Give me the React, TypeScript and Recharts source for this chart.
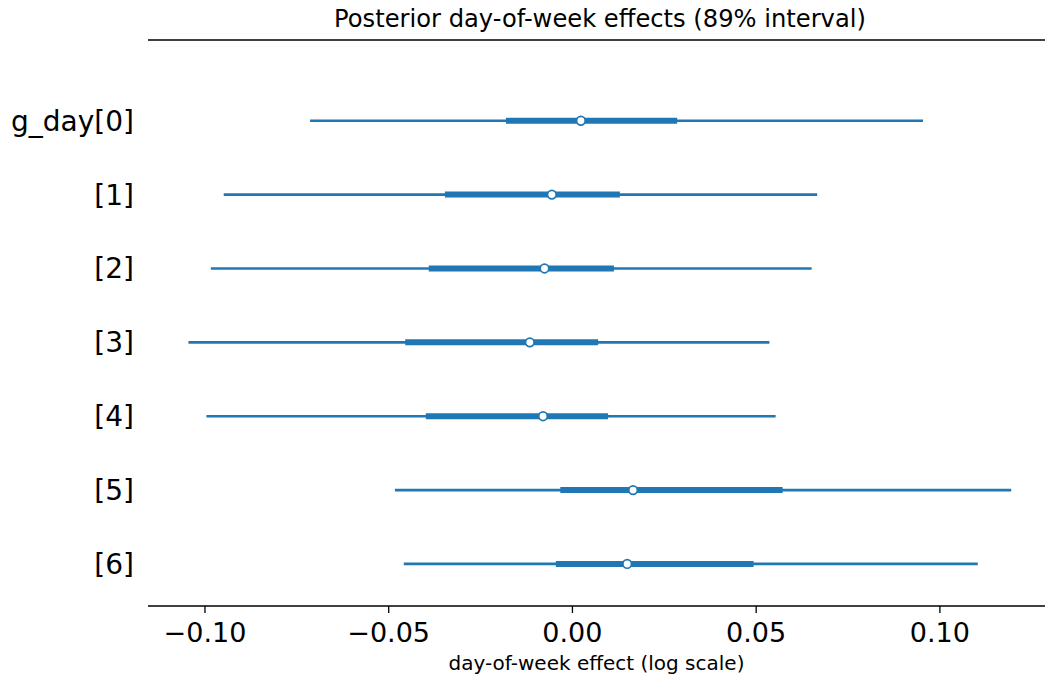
import React from 'react';
import { ComposedChart, Scatter, XAxis, YAxis, ErrorBar, ReferenceLine } from 'recharts';

const rowLabels = ['g_day[0]', '[1]', '[2]', '[3]', '[4]', '[5]', '[6]'];
const medians = [0.0023, -0.0056, -0.0076, -0.0116, -0.008, 0.0165, 0.0149];
const hdiLow = [-0.0714, -0.0949, -0.0984, -0.1045, -0.0996, -0.0483, -0.0459];
const hdiHigh = [0.0954, 0.0666, 0.0651, 0.0536, 0.0553, 0.1194, 0.1103];
const iqrLow = [-0.0181, -0.0347, -0.0391, -0.0455, -0.0399, -0.0033, -0.0045];
const iqrHigh = [0.0285, 0.0129, 0.0113, 0.007, 0.0097, 0.0572, 0.0493];
const xTicks = [-0.1, -0.05, 0, 0.05, 0.1];
const rowTicks = [0, 1, 2, 3, 4, 5, 6];

const X_DOMAIN: [number, number] = [-0.1155, 0.1286];
const Y_DOMAIN: [number, number] = [-1.093, 6.569];
const BLUE = '#1f77b4';
const FONT = "'DejaVu Sans', sans-serif";

const data = rowLabels.map((label, i) => ({
  label,
  row: i,
  median: medians[i],
  hdiErr: [medians[i] - hdiLow[i], hdiHigh[i] - medians[i]],
  iqrErr: [medians[i] - iqrLow[i], iqrHigh[i] - medians[i]],
}));

const fmtX = (v: number) => (v < 0 ? '\u2212' : '') + Math.abs(v).toFixed(2);
const fmtY = (v: number) => rowLabels[v] ?? '';

const Hidden = () => <g />;
const MedianDot = (p: any) => (
  <circle cx={p.cx} cy={p.cy} r={4.3} fill="#ffffff" stroke={BLUE} strokeWidth={1.7} />
);

export default function App() {
  return (
    <div style={{ position: 'absolute', left: 0, top: 0, width: 1045, height: 679, fontFamily: FONT, background: '#fff' }}>
      <div
        style={{
          position: 'absolute',
          left: 0,
          top: 7,
          width: 1200,
          textAlign: 'center',
          fontSize: 24.2,
          lineHeight: '24px',
          color: '#000',
          fontFamily: FONT,
        }}
      >
        Posterior day-of-week effects (89% interval)
      </div>
      <ComposedChart width={1045} height={679} data={data} margin={{ top: 40, right: 0, bottom: 0, left: 0 }}>
        <XAxis
          xAxisId="bottom"
          type="number"
          dataKey="median"
          domain={X_DOMAIN}
          allowDataOverflow
          ticks={xTicks}
          interval={0}
          tickFormatter={fmtX}
          height={73}
          tickSize={7}
          tickMargin={10}
          tick={{ fontSize: 27, fill: '#000', fontFamily: FONT }}
          axisLine={{ stroke: '#000', strokeWidth: 1.6 }}
          tickLine={{ stroke: '#000', strokeWidth: 1.3 }}
          label={{
            value: 'day-of-week effect (log scale)',
            position: 'insideBottom',
            offset: 9,
            fontSize: 20,
            fill: '#000',
            fontFamily: FONT,
          }}
        />
        <YAxis
          yAxisId="rows"
          type="number"
          dataKey="row"
          domain={Y_DOMAIN}
          allowDataOverflow
          reversed
          ticks={rowTicks}
          interval={0}
          tickFormatter={fmtY}
          width={148}
          axisLine={false}
          tickLine={false}
          tickSize={0}
          tickMargin={14}
          tick={{ fontSize: 28, fill: '#000', fontFamily: FONT }}
        />
        <ReferenceLine
          xAxisId="bottom"
          yAxisId="rows"
          y={Y_DOMAIN[0]}
          stroke="#000"
          strokeWidth={1.6}
          strokeOpacity={1}
          ifOverflow="visible"
        />
        <Scatter xAxisId="bottom" yAxisId="rows" data={data} shape={Hidden} isAnimationActive={false}>
          <ErrorBar dataKey="hdiErr" direction="x" width={0} stroke={BLUE} strokeWidth={2.7} isAnimationActive={false} />
        </Scatter>
        <Scatter xAxisId="bottom" yAxisId="rows" data={data} shape={Hidden} isAnimationActive={false}>
          <ErrorBar dataKey="iqrErr" direction="x" width={0} stroke={BLUE} strokeWidth={6} isAnimationActive={false} />
        </Scatter>
        <Scatter xAxisId="bottom" yAxisId="rows" data={data} shape={MedianDot} isAnimationActive={false} />
      </ComposedChart>
    </div>
  );
}
